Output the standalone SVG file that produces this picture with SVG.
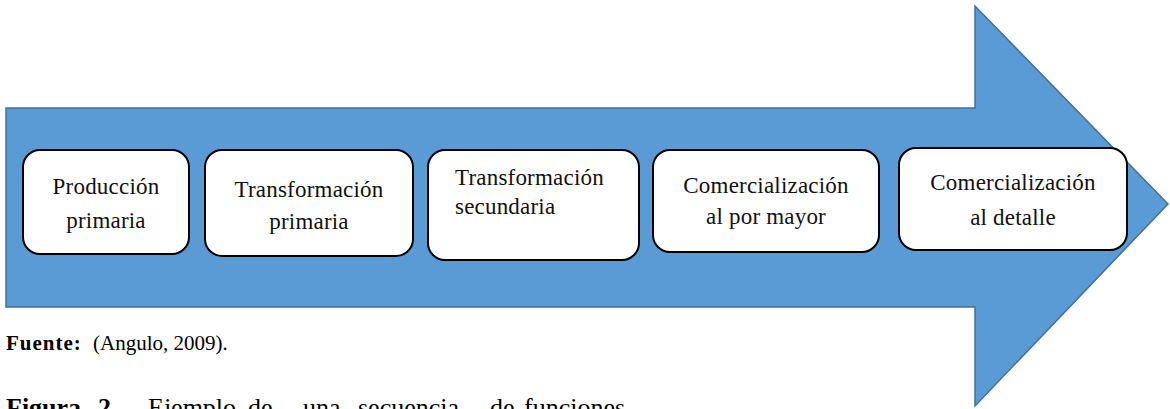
<svg xmlns="http://www.w3.org/2000/svg" width="1170" height="409" viewBox="0 0 1170 409">
<style>
.box{fill:#ffffff;stroke:#000000;stroke-width:2}
.t{font-family:"Liberation Serif","Times New Roman",serif;font-size:23px;fill:#111111;letter-spacing:0.2px}
.c{text-anchor:middle}
.foot{font-family:"Liberation Serif","Times New Roman",serif;font-size:21px;fill:#000000}
.cap{font-family:"Liberation Serif","Times New Roman",serif;font-size:26px;fill:#000000}
</style>
<rect width="1170" height="409" fill="#ffffff"/>
<g id="connectors">
<path d="M6,108 L975,108 L975,6 L1168,204 L975,406 L975,307 L6,307 Z" fill="#5B9BD5" stroke="#41719C" stroke-width="1.5"/>
</g>
<g id="node1">
<rect class="box" x="23" y="150" width="166" height="104" rx="17"/>
<text class="t c" x="106" y="194">Producción</text>
<text class="t c" x="106" y="228">primaria</text>
</g>
<g id="node2">
<rect class="box" x="205" y="150" width="208" height="106" rx="17"/>
<text class="t c" x="309" y="197">Transformación</text>
<text class="t c" x="309" y="229">primaria</text>
</g>
<g id="node3">
<rect class="box" x="428" y="150" width="211" height="110" rx="17"/>
<text class="t" x="455" y="185">Transformación</text>
<text class="t" x="455" y="214">secundaria</text>
</g>
<g id="node4">
<rect class="box" x="653" y="150" width="226" height="102" rx="17"/>
<text class="t c" x="766" y="193">Comercialización</text>
<text class="t c" x="766" y="224">al por mayor</text>
</g>
<g id="node5">
<rect class="box" x="899" y="148" width="228" height="102" rx="17"/>
<text class="t c" x="1013" y="190">Comercialización</text>
<text class="t c" x="1013" y="225">al detalle</text>
</g>
<g id="footer">
<text class="foot" x="6" y="350"><tspan font-weight="bold" letter-spacing="1">Fuente:</tspan><tspan x="93">(Angulo, 2009).</tspan></text>
<text class="cap" y="416"><tspan x="6" font-weight="bold">Figura</tspan><tspan x="98" font-weight="bold">2.</tspan><tspan x="148">Ejemplo</tspan><tspan x="248">de</tspan><tspan x="303">una</tspan><tspan x="358">secuencia</tspan><tspan x="490">de</tspan><tspan x="524">funciones</tspan></text>
</g>
</svg>
